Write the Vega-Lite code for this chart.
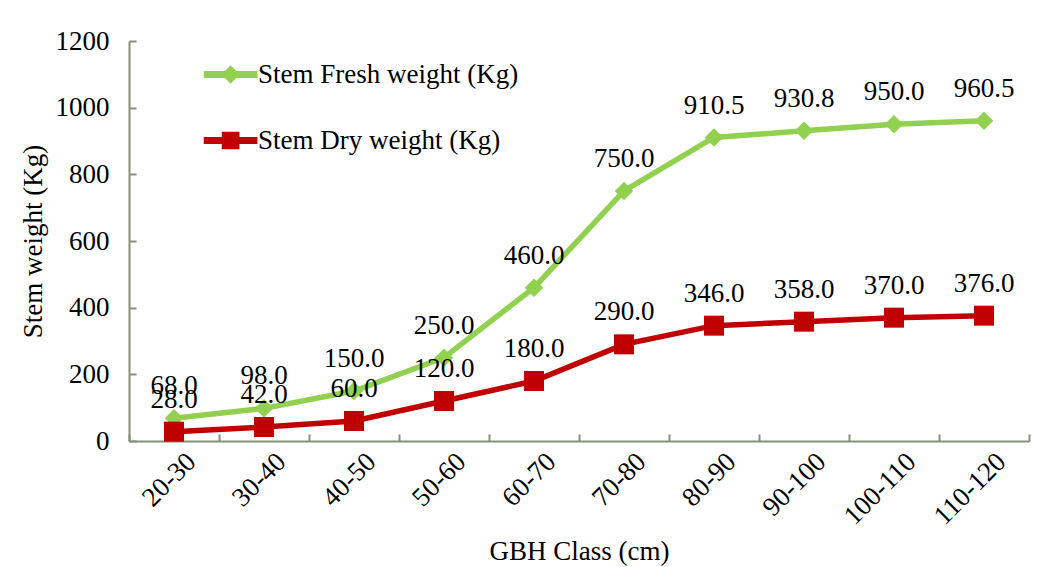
{
  "$schema": "https://vega.github.io/schema/vega-lite/v6.json",
  "width": 900,
  "height": 400,
  "autosize": "none",
  "padding": {"left": 129, "top": 41, "right": 10, "bottom": 126},
  "background": "white",
  "config": {
    "view": {"stroke": null},
    "font": "Times New Roman",
    "text": {"font": "Times New Roman"},
    "axis": {"labelFont": "Times New Roman", "titleFont": "Times New Roman", "labelColor": "black", "titleColor": "black", "titleFontWeight": "normal", "labelFontSize": 27, "titleFontSize": 27, "domainColor": "#878f7a", "tickColor": "#878f7a", "domainWidth": 2, "tickWidth": 2, "grid": false},
    "legend": {"labelFont": "Times New Roman", "labelFontSize": 27, "labelColor": "black", "labelLimit": 0}
  },
  "data": {
    "values": [
      {"gbh": "20-30", "series": "Stem Fresh weight (Kg)", "value": 68.0},
      {"gbh": "30-40", "series": "Stem Fresh weight (Kg)", "value": 98.0},
      {"gbh": "40-50", "series": "Stem Fresh weight (Kg)", "value": 150.0},
      {"gbh": "50-60", "series": "Stem Fresh weight (Kg)", "value": 250.0},
      {"gbh": "60-70", "series": "Stem Fresh weight (Kg)", "value": 460.0},
      {"gbh": "70-80", "series": "Stem Fresh weight (Kg)", "value": 750.0},
      {"gbh": "80-90", "series": "Stem Fresh weight (Kg)", "value": 910.5},
      {"gbh": "90-100", "series": "Stem Fresh weight (Kg)", "value": 930.8},
      {"gbh": "100-110", "series": "Stem Fresh weight (Kg)", "value": 950.0},
      {"gbh": "110-120", "series": "Stem Fresh weight (Kg)", "value": 960.5},
      {"gbh": "20-30", "series": "Stem Dry weight (Kg)", "value": 28.0},
      {"gbh": "30-40", "series": "Stem Dry weight (Kg)", "value": 42.0},
      {"gbh": "40-50", "series": "Stem Dry weight (Kg)", "value": 60.0},
      {"gbh": "50-60", "series": "Stem Dry weight (Kg)", "value": 120.0},
      {"gbh": "60-70", "series": "Stem Dry weight (Kg)", "value": 180.0},
      {"gbh": "70-80", "series": "Stem Dry weight (Kg)", "value": 290.0},
      {"gbh": "80-90", "series": "Stem Dry weight (Kg)", "value": 346.0},
      {"gbh": "90-100", "series": "Stem Dry weight (Kg)", "value": 358.0},
      {"gbh": "100-110", "series": "Stem Dry weight (Kg)", "value": 370.0},
      {"gbh": "110-120", "series": "Stem Dry weight (Kg)", "value": 376.0}
    ]
  },
  "encoding": {
    "x": {
      "field": "gbh", "type": "ordinal", "sort": null,
      "scale": {"paddingInner": 0, "paddingOuter": 0},
      "axis": {"title": "GBH Class (cm)", "labelAngle": -45, "tickBand": "extent", "tickSize": -7, "labelPadding": 14, "labelOffset": 8, "titlePadding": 9}
    },
    "y": {
      "field": "value", "type": "quantitative",
      "scale": {"domain": [0, 1200], "nice": false},
      "axis": {"title": "Stem weight (Kg)", "format": "d", "values": [0, 200, 400, 600, 800, 1000, 1200], "tickSize": -7, "labelPadding": 27, "titlePadding": 8}
    },
    "color": {
      "field": "series", "type": "nominal",
      "scale": {"domain": ["Stem Fresh weight (Kg)", "Stem Dry weight (Kg)"], "range": ["#92d050", "#c00000"]},
      "legend": {
        "title": null, "orient": "none", "legendX": 71, "legendY": 20, "padding": 0,
        "symbolSize": 324, "rowPadding": 38, "labelOffset": 31,
        "encode": {
          "symbols": {
            "update": {
              "shape": {"signal": "datum.value === 'Stem Fresh weight (Kg)' ? 'M-1,-0.3L4.8,-0.3L4.8,0.3L-1,0.3Z M1.9,-0.9L2.8,0L1.9,0.9L1,0Z' : 'M-1,-0.3L4.8,-0.3L4.8,0.3L-1,0.3Z M1,-0.9L2.8,-0.9L2.8,0.9L1,0.9Z'"},
              "fill": {"signal": "datum.value === 'Stem Fresh weight (Kg)' ? '#92d050' : '#c00000'"},
              "stroke": {"value": "transparent"},
              "opacity": {"value": 1}
            }
          }
        }
      }
    }
  },
  "layer": [
    {"mark": {"type": "line", "strokeWidth": 5.5}},
    {
      "transform": [{"filter": "datum.series === 'Stem Fresh weight (Kg)'"}],
      "mark": {"type": "point", "filled": true, "opacity": 1, "shape": "diamond", "size": 340}
    },
    {
      "transform": [{"filter": "datum.series === 'Stem Dry weight (Kg)'"}],
      "mark": {"type": "point", "filled": true, "opacity": 1, "shape": "square", "size": 400}
    },
    {
      "mark": {"type": "text", "dy": -32, "baseline": "middle", "fontSize": 27, "font": "Times New Roman", "color": "black"},
      "encoding": {
        "text": {"field": "value", "type": "quantitative", "format": ".1f"},
        "color": {"value": "black"}
      }
    }
  ]
}
